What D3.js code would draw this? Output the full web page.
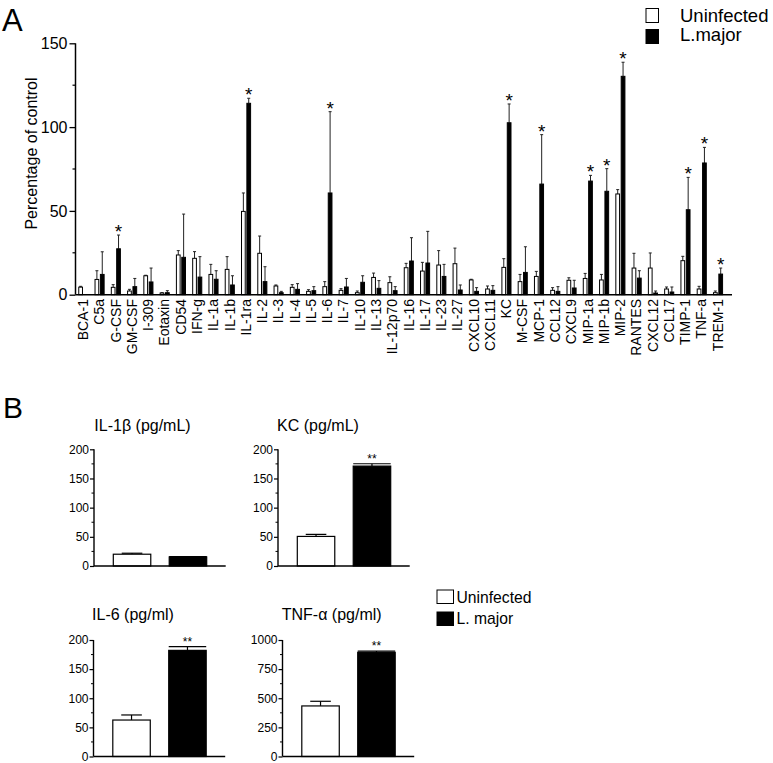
<!DOCTYPE html>
<html>
<head>
<meta charset="utf-8">
<script src="https://cdn.jsdelivr.net/npm/d3@7"></script>
<style>
  html, body { margin: 0; padding: 0; background: #fff; }
  svg { display: block; font-family: "Liberation Sans", Arial, Helvetica, sans-serif; }
</style>
</head>
<body>
<svg id="chart" width="773" height="763"></svg>
<script>
// ---------- Panel A data ----------
const categories = ["BCA-1","C5a","G-CSF","GM-CSF","I-309","Eotaxin","CD54","IFN-g","IL-1a","IL-1b","IL-1ra","IL-2","IL-3","IL-4","IL-5","IL-6","IL-7","IL-10","IL-13","IL-12p70","IL-16","IL-17","IL-23","IL-27","CXCL10","CXCL11","KC","M-CSF","MCP-1","CCL12","CXCL9","MIP-1a","MIP-1b","MIP-2","RANTES","CXCL12","CCL17","TIMP-1","TNF-a","TREM-1"];
const uninfected    = [4.5, 9.1, 4.4, 2.2, 11.3, 1.0, 23.7, 21.7, 12.1, 15.1, 49.7, 24.7, 5.2, 4.4, 2.0, 4.8, 2.6, 1.2, 10.3, 7.2, 16.1, 14.1, 17.7, 18.5, 8.8, 3.4, 16.3, 7.8, 10.9, 2.6, 8.6, 9.7, 8.8, 60.1, 15.9, 15.9, 3.4, 20.3, 3.4, 1.2];
const uninfectedErr = [0.5, 5.2, 1.6, 1.0, 0.3, 0.2, 2.6, 4.0, 6.0, 7.6, 11.0, 10.3, 0.6, 1.6, 1.0, 3.0, 1.0, 1.0, 2.6, 3.5, 2.6, 5.2, 8.6, 9.3, 0.4, 1.8, 5.2, 4.3, 3.0, 1.6, 1.5, 3.0, 3.3, 2.6, 8.8, 9.0, 1.2, 2.6, 1.6, 1.0];
const lmajor        = [0, 12.1, 27.4, 4.8, 7.6, 1.2, 22.3, 10.5, 9.2, 5.8, 114.2, 7.8, 1.2, 3.2, 2.4, 60.7, 4.6, 7.4, 3.8, 2.4, 20.1, 18.9, 10.9, 2.8, 2.0, 2.6, 102.6, 13.3, 66.0, 2.0, 4.0, 67.8, 61.7, 130.3, 9.9, 1.0, 1.6, 50.7, 78.6, 12.3];
const lmajorErr     = [0, 13.5, 8.2, 4.9, 8.3, 1.2, 25.8, 12.2, 5.1, 5.5, 3.0, 8.9, 0.8, 3.4, 2.4, 48.5, 5.1, 3.9, 4.6, 2.4, 13.9, 18.9, 7.2, 3.0, 2.2, 2.8, 11.2, 15.3, 29.5, 2.8, 4.6, 3.4, 13.5, 8.4, 4.4, 1.2, 3.0, 19.3, 9.3, 3.6];
const significantA  = ["G-CSF","IL-1ra","IL-6","KC","MCP-1","MIP-1a","MIP-1b","MIP-2","TIMP-1","TNF-a","TREM-1"];
const yTicksA = [0, 50, 100, 150];
const seriesNamesA = ["Uninfected", "L.major"];

// ---------- Panel B data ----------
const bTitles      = ["IL-1β (pg/mL)", "KC (pg/mL)", "IL-6 (pg/ml)", "TNF-α (pg/ml)"];
const bUninfected  = [20.2, 50.7, 62.6, 434];
const bUninfErr    = [1.7, 3.5, 8.7, 40];
const bLmajor      = [15.6, 171.2, 182.2, 894];
const bLmajorErr   = [0.3, 4.0, 6.3, 11];
const bMax         = [200, 200, 200, 1000];
const bTickStep    = [50, 50, 50, 250];
const bSig         = ["", "**", "**", "**"];
const seriesNamesB = ["Uninfected", "L. major"];

// ---------- Drawing ----------
const svg = d3.select("#chart");
svg.append("rect").attr("width", 773).attr("height", 763).attr("fill", "#fff");

// Panel A
const A = { left: 75.5, right: 732, top: 43.3, bottom: 294.7, bandL: 75, bandR: 726 };
const yA = d3.scaleLinear().domain([0, 150]).range([A.bottom, A.top]);
const xA = d3.scaleBand().domain(categories).range([A.bandL, A.bandR]).paddingInner(0).paddingOuter(0);
const xSubA = d3.scaleBand().domain(seriesNamesA).range([xA.bandwidth() * 0.2, xA.bandwidth() * 0.82]).paddingInner(0.12);

svg.append("text").attr("x", 2).attr("y", 30.7).attr("font-size", 31).text("A");

const gA = svg.append("g");
const yAxisA = d3.axisLeft(yA).tickValues(yTicksA).tickSize(6).tickPadding(2);
const gyA = gA.append("g").attr("transform", `translate(${A.left},0)`).call(yAxisA);
gyA.select(".domain").remove();
gyA.selectAll("text").attr("font-size", 16).attr("font-family", "Liberation Sans, Arial").attr("fill", "#000");
gyA.selectAll("line").attr("stroke", "#000").attr("stroke-width", 1.3);
gA.append("g").selectAll("line").data([25, 75, 125]).join("line")
  .attr("x1", A.left - 3).attr("x2", A.left)
  .attr("y1", d => yA(d)).attr("y2", d => yA(d))
  .attr("stroke", "#000").attr("stroke-width", 1.2);
gA.append("line").attr("x1", A.left).attr("x2", A.left).attr("y1", A.top).attr("y2", A.bottom)
  .attr("stroke", "#000").attr("stroke-width", 1.5);

svg.append("text")
  .attr("transform", `translate(37,153.5) rotate(-90)`)
  .attr("text-anchor", "middle").attr("font-size", 16).text("Percentage of control");

const rowsA = categories.map((c, i) => ({
  cat: c,
  vals: [
    { s: seriesNamesA[0], v: uninfected[i], e: uninfectedErr[i] },
    { s: seriesNamesA[1], v: lmajor[i], e: lmajorErr[i] }
  ]
}));
const catG = gA.selectAll("g.cat").data(rowsA).join("g").attr("class", "cat")
  .attr("transform", d => `translate(${xA(d.cat)},0)`);
catG.selectAll("line.err").data(d => d.vals).join("line").attr("class", "err")
  .attr("x1", d => xSubA(d.s) + xSubA.bandwidth() / 2).attr("x2", d => xSubA(d.s) + xSubA.bandwidth() / 2)
  .attr("y1", d => yA(d.v)).attr("y2", d => yA(d.v + d.e))
  .attr("stroke", "#222").attr("stroke-width", 1);
catG.selectAll("line.cap").data(d => d.vals.filter(v => v.e > 0)).join("line").attr("class", "cap")
  .attr("x1", d => xSubA(d.s) + xSubA.bandwidth() / 2 - 1.5).attr("x2", d => xSubA(d.s) + xSubA.bandwidth() / 2 + 1.5)
  .attr("y1", d => yA(d.v + d.e)).attr("y2", d => yA(d.v + d.e))
  .attr("stroke", "#222").attr("stroke-width", 1);
catG.selectAll("rect").data(d => d.vals.filter(v => v.v > 0)).join("rect")
  .attr("x", d => xSubA(d.s) + 0.5).attr("width", xSubA.bandwidth() - 1)
  .attr("y", d => yA(d.v)).attr("height", d => yA(0) - yA(d.v))
  .attr("fill", d => d.s === seriesNamesA[0] ? "#fff" : "#000")
  .attr("stroke", "#000").attr("stroke-width", 1);
catG.filter(d => significantA.includes(d.cat)).append("text")
  .attr("x", d => xSubA(seriesNamesA[1]) + xSubA.bandwidth() / 2)
  .attr("y", d => yA(d.vals[1].v + d.vals[1].e) + 3)
  .attr("text-anchor", "middle").attr("font-size", 19).text("*");

gA.append("line").attr("x1", A.left).attr("x2", A.right).attr("y1", A.bottom).attr("y2", A.bottom)
  .attr("stroke", "#000").attr("stroke-width", 1.6);
gA.append("g").selectAll("text").data(categories).join("text")
  .attr("transform", d => `translate(${xA(d) + xA.bandwidth() / 2},299) rotate(-90)`)
  .attr("text-anchor", "end").attr("dy", "0.35em").attr("font-size", 14).text(d => d);

const legA = svg.append("g");
seriesNamesA.forEach((s, i) => {
  legA.append("rect").attr("x", 646).attr("y", 8.5 + i * 21).attr("width", 12.5).attr("height", 14)
    .attr("fill", i === 0 ? "#fff" : "#000").attr("stroke", "#000").attr("stroke-width", 1);
  legA.append("text").attr("x", 680).attr("y", 21.7 + i * 19.5).attr("font-size", 18.5).text(s);
});

// Panel B
svg.append("text").attr("x", 3).attr("y", 418).attr("font-size", 30).text("B");

const layoutB = [
  { ax: 94,    top: 449.3, bot: 566,   tx: 142.5, ty: 431 },
  { ax: 278,   top: 449.3, bot: 566,   tx: 318,   ty: 431 },
  { ax: 93.5,  top: 640,   bot: 756.5, tx: 133,   ty: 620 },
  { ax: 282.5, top: 640,   bot: 756.5, tx: 331.7, ty: 620 }
];
const barOff = { l: 19.3, r: 112.7, end: 131.7 };

layoutB.forEach((L, i) => {
  const g = svg.append("g");
  const y = d3.scaleLinear().domain([0, bMax[i]]).range([L.bot, L.top]);
  const x = d3.scaleBand().domain(seriesNamesB).range([L.ax + barOff.l, L.ax + barOff.r]).paddingInner(0.33).paddingOuter(0);
  const major = d3.range(0, bMax[i] + 1, bTickStep[i]);
  const minor = d3.range(bTickStep[i] / 2, bMax[i], bTickStep[i]);

  g.append("text").attr("x", L.tx).attr("y", L.ty).attr("text-anchor", "middle")
    .attr("font-size", 16).text(bTitles[i]);

  const gy = g.append("g").attr("transform", `translate(${L.ax},0)`)
    .call(d3.axisLeft(y).tickValues(major).tickSize(4).tickPadding(1).tickFormat(d3.format("d")));
  gy.select(".domain").remove();
  gy.selectAll("text").attr("font-size", 12).attr("font-family", "Liberation Sans, Arial").attr("fill", "#000");
  gy.selectAll("line").attr("stroke", "#000").attr("stroke-width", 1.2);
  g.append("g").selectAll("line").data(minor).join("line")
    .attr("x1", L.ax - 2.5).attr("x2", L.ax).attr("y1", d => y(d)).attr("y2", d => y(d))
    .attr("stroke", "#000").attr("stroke-width", 1);
  g.append("line").attr("x1", L.ax).attr("x2", L.ax).attr("y1", L.top).attr("y2", L.bot)
    .attr("stroke", "#000").attr("stroke-width", 1.4);

  const vals = [
    { s: seriesNamesB[0], v: bUninfected[i], e: bUninfErr[i] },
    { s: seriesNamesB[1], v: bLmajor[i], e: bLmajorErr[i] }
  ];
  vals.forEach(d => {
    const cx = x(d.s) + x.bandwidth() / 2;
    const capW = d.s === seriesNamesB[0] ? x.bandwidth() * 0.55 : x.bandwidth();
    g.append("line").attr("x1", cx).attr("x2", cx).attr("y1", y(d.v)).attr("y2", y(d.v + d.e))
      .attr("stroke", "#000").attr("stroke-width", 1.2);
    g.append("line").attr("x1", cx - capW / 2).attr("x2", cx + capW / 2)
      .attr("y1", y(d.v + d.e)).attr("y2", y(d.v + d.e))
      .attr("stroke", "#000").attr("stroke-width", 1.2);
    g.append("rect").attr("x", x(d.s)).attr("width", x.bandwidth())
      .attr("y", y(d.v)).attr("height", y(0) - y(d.v))
      .attr("fill", d.s === seriesNamesB[0] ? "#fff" : "#000")
      .attr("stroke", "#000").attr("stroke-width", 1.2);
  });
  if (bSig[i]) {
    g.append("text").attr("x", x(seriesNamesB[1]) + x.bandwidth() / 2)
      .attr("y", y(bLmajor[i] + bLmajorErr[i]) - 1)
      .attr("text-anchor", "middle").attr("font-size", 12).text(bSig[i]);
  }
  g.append("line").attr("x1", L.ax).attr("x2", L.ax + barOff.end).attr("y1", L.bot).attr("y2", L.bot)
    .attr("stroke", "#000").attr("stroke-width", 1.4);
});

const legB = svg.append("g");
seriesNamesB.forEach((s, i) => {
  legB.append("rect").attr("x", 437).attr("y", 590 + i * 22).attr("width", 16.5).attr("height", 13.5)
    .attr("fill", i === 0 ? "#fff" : "#000").attr("stroke", "#000").attr("stroke-width", 1);
  legB.append("text").attr("x", 456.5).attr("y", 602.5 + i * 21.5).attr("font-size", 15.7).text(s);
});
</script>
</body>
</html>
